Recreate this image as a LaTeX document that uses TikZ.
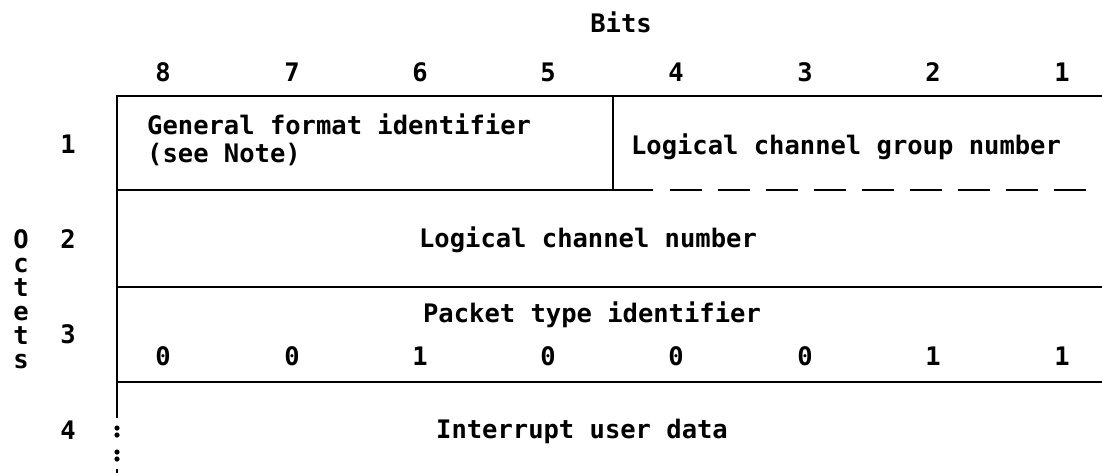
\documentclass[tikz,border=0pt]{standalone}
\usepackage{fontspec}
\setmainfont{DejaVu Sans Mono}
\begin{document}
\begin{tikzpicture}[x=1pt,y=-1pt,
	txt/.style={font=\fontsize{25.5}{27.5}\selectfont\bfseries,inner sep=0pt,anchor=base},
	rule/.style={line width=2.4pt},
	gap/.style={rule,dash pattern=on 32pt off 16pt}]
	\useasboundingbox (0,0) rectangle (1102,472);
	\path (621,32) node[txt](bits){Bits};
	\foreach \x/\texn in {163/8,292/7,420/6,548/5,
		676/4,805/3,933/2,1062/1} \path
	(\x,81)node[txt](b\texn){\texn};
	\foreach \y/\texn in {153/1,248/2,343/3,439/4} \path
	(68,\y)node[txt](r\texn){\texn};
	\foreach \y/\texn [count=\i] in {248/O,272/c,296/t,
		320/e,344/t,368/s} \path
	(21,\y)node[txt](oct\i){\texn};
	\foreach \x/\texn [count=\i] in {163/0,292/0,420/1,548/0,
		676/0,805/0,933/1,1062/1} \path
	(\x,365)node[txt](v\i){\texn};
	\path (147,114) node[txt,anchor=north west,align=left](gfi)
	{General format identifier\\(see Note)};
	\path (846,154) node[txt](lcgn){Logical channel group number};
	\path (588,247) node[txt](lcn){Logical channel number};
	\path (592,322) node[txt](pti){Packet type identifier};
	\path (582,438) node[txt](iud){Interrupt user data};
	\draw[rule]
	(1102,96)--(117,96)--(117,418)
	(613,96)--(613,190) (117,190)--(653,190)
	(117,287)--(1102,287) (117,382)--(1102,382)
	(117,469)--(117,474);
	\draw[gap] (670,190)--(1102,190);
	\foreach \y in {428,435,452,459} \fill (117,\y) circle (2.6);
\end{tikzpicture}
\end{document}
